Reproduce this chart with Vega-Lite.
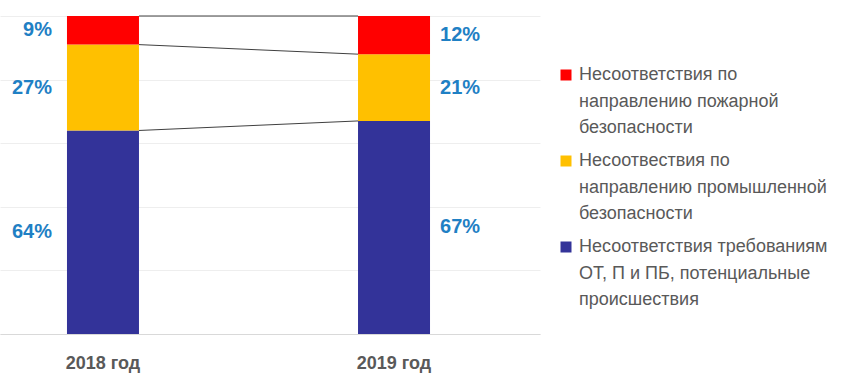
{
  "$schema": "https://vega.github.io/schema/vega-lite/v6.json",
  "autosize": "none",
  "width": 540,
  "height": 318,
  "padding": {"left": 0, "top": 16, "right": 310, "bottom": 50},
  "background": "white",
  "config": {
    "view": {"stroke": null},
    "font": "Liberation Sans",
    "style": {"guide-label": {"lineHeight": 26.5}}
  },
  "datasets": {
    "shares": [
      {"year": "2018 год", "category": "Несоответствия требованиям ОТ, П и ПБ, потенциальные происшествия", "share": 0.64, "order": 1},
      {"year": "2018 год", "category": "Несоотвествия по направлению промышленной безопасности", "share": 0.27, "order": 2},
      {"year": "2018 год", "category": "Несоответствия по направлению пожарной безопасности", "share": 0.09, "order": 3},
      {"year": "2019 год", "category": "Несоответствия требованиям ОТ, П и ПБ, потенциальные происшествия", "share": 0.67, "order": 1},
      {"year": "2019 год", "category": "Несоотвествия по направлению промышленной безопасности", "share": 0.21, "order": 2},
      {"year": "2019 год", "category": "Несоответствия по направлению пожарной безопасности", "share": 0.12, "order": 3}
    ],
    "links": [
      {"from": "2018 год", "to": "2019 год", "start": 0.64, "end": 0.67},
      {"from": "2018 год", "to": "2019 год", "start": 0.91, "end": 0.88},
      {"from": "2018 год", "to": "2019 год", "start": 1.0, "end": 1.0}
    ]
  },
  "layer": [
    {
      "data": {"name": "shares"},
      "mark": {"type": "bar"},
      "encoding": {
        "x": {
          "field": "year",
          "type": "nominal",
          "scale": {"paddingInner": 0.7526, "paddingOuter": 0.304, "align": 0.3785},
          "axis": {
            "title": null,
            "labelAngle": 0,
            "labelFontSize": 18,
            "labelFontWeight": "bold",
            "labelColor": "#595959",
            "ticks": false,
            "domainColor": "#d9d9d9",
            "labelPadding": 20
          }
        },
        "y": {
          "field": "share",
          "type": "quantitative",
          "stack": "zero",
          "scale": {"domain": [0, 1]},
          "axis": {
            "title": null,
            "labels": false,
            "ticks": false,
            "domain": false,
            "grid": true,
            "gridColor": "#eeeeee",
            "values": [0, 0.1, 0.2, 0.3, 0.4, 0.5, 0.6, 0.7, 0.8, 0.9, 1.0]
          }
        },
        "color": {
          "field": "category",
          "type": "nominal",
          "scale": {
            "domain": [
              "Несоответствия по направлению пожарной безопасности",
              "Несоотвествия по направлению промышленной безопасности",
              "Несоответствия требованиям ОТ, П и ПБ, потенциальные происшествия"
            ],
            "range": ["#FF0000", "#FFC000", "#333399"]
          },
          "legend": {
            "title": null,
            "orient": "none",
            "legendX": 557,
            "legendY": 50,
            "padding": 0,
            "symbolType": "square",
            "symbolSize": 121,
            "symbolStrokeWidth": 0,
            "labelFontSize": 18,
            "labelColor": "#595959",
            "labelLimit": 400,
            "labelOffset": 4,
            "labelBaseline": "middle",
            "rowPadding": 15,
            "labelExpr": "datum.label == 'Несоответствия по направлению пожарной безопасности' ? ['Несоответствия по', 'направлению пожарной', 'безопасности'] : datum.label == 'Несоотвествия по направлению промышленной безопасности' ? ['Несоотвествия по', 'направлению промышленной', 'безопасности'] : ['Несоответствия требованиям', 'ОТ, П и ПБ, потенциальные', 'происшествия']"
          }
        },
        "order": {"field": "order"}
      }
    },
    {
      "data": {"name": "links"},
      "mark": {"type": "rule", "color": "#404040", "strokeWidth": 1},
      "encoding": {
        "x": {"field": "from", "type": "nominal", "bandPosition": 1},
        "x2": {"field": "to", "bandPosition": 0},
        "y": {"field": "start", "type": "quantitative"},
        "y2": {"field": "end"}
      }
    },
    {
      "data": {"name": "shares"},
      "transform": [{"filter": "datum.year == '2018 год'"}],
      "mark": {"type": "text", "align": "right", "baseline": "middle", "dx": -51, "fontSize": 20, "fontWeight": "bold", "color": "#1F80C4"},
      "encoding": {
        "x": {"field": "year", "type": "nominal"},
        "y": {"field": "share", "type": "quantitative", "stack": "zero", "bandPosition": 0.5},
        "order": {"field": "order"},
        "text": {"field": "share", "type": "quantitative", "format": ".0%"}
      }
    },
    {
      "data": {"name": "shares"},
      "transform": [{"filter": "datum.year == '2019 год'"}],
      "mark": {"type": "text", "align": "left", "baseline": "middle", "dx": 46, "fontSize": 20, "fontWeight": "bold", "color": "#1F80C4"},
      "encoding": {
        "x": {"field": "year", "type": "nominal"},
        "y": {"field": "share", "type": "quantitative", "stack": "zero", "bandPosition": 0.5},
        "order": {"field": "order"},
        "text": {"field": "share", "type": "quantitative", "format": ".0%"}
      }
    }
  ]
}
